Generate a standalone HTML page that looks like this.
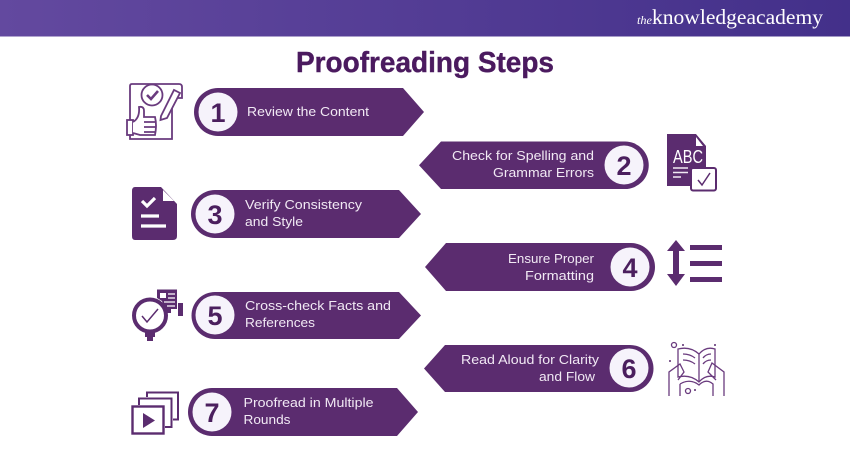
<!DOCTYPE html>
<html lang="en">
<head>
<meta charset="utf-8">
<title>Proofreading Steps</title>
<style>
html,body{margin:0;padding:0;background:#fff}
svg{display:block}
.t{font-family:"Liberation Sans",sans-serif;font-size:13px;fill:#f1e9f4}
.n{font-family:"Liberation Sans",sans-serif;font-size:27px;font-weight:bold;fill:#4b1f5e;text-anchor:middle}
.o{fill:none;stroke:#6a3b7e;stroke-width:1.8}
.d{fill:#5b2c6f}
</style>
</head>
<body>
<svg width="850" height="450" viewBox="0 0 850 450" xmlns="http://www.w3.org/2000/svg">
<defs>
<linearGradient id="g" x1="0" y1="0" x2="1" y2="0">
<stop offset="0" stop-color="#63499f"/>
<stop offset="1" stop-color="#43308a"/>
</linearGradient>
</defs>
<rect width="850" height="450" fill="#fff"/>
<rect width="850" height="36.500" fill="url(#g)"/>
<text x="637" y="24" font-family="Liberation Serif,serif" font-style="italic" font-size="12" fill="#fff" textLength="15" lengthAdjust="spacingAndGlyphs">the</text>
<text x="652" y="24" font-family="Liberation Serif,serif" font-size="21" fill="#fff" textLength="171" lengthAdjust="spacingAndGlyphs">knowledgeacademy</text>
<text x="296" y="72" font-family="Liberation Sans,sans-serif" font-size="29" font-weight="bold" fill="#4b1a5f" stroke="#4b1a5f" stroke-width=".4" textLength="258" lengthAdjust="spacingAndGlyphs">Proofreading Steps</text>

<!-- banners -->
<g fill="#5b2c6f">
<path d="M218 88H403L424 112L403 136H218A24 24 0 0 1 218 88Z"/>
<path d="M215 190H399L421 214L399 238H215A24 24 0 0 1 215 190Z"/>
<path d="M215 292H399L421 315.500L399 339H215A23.500 23.500 0 0 1 215 292Z"/>
<path d="M212 388H397L418 412L397 436H212A24 24 0 0 1 212 388Z"/>
<path d="M625 141.500H441L419 165.250L441 189H625A23.750 23.750 0 0 0 625 141.500Z"/>
<path d="M631 243H446L425 267L446 291H631A24 24 0 0 0 631 243Z"/>
<path d="M630 345H445L424 368.500L445 392H630A23.500 23.500 0 0 0 630 345Z"/>
</g>
<g fill="#f6f3fb">
<circle cx="218" cy="112" r="19.500"/>
<circle cx="215" cy="214" r="19.500"/>
<circle cx="215" cy="315" r="19.500"/>
<circle cx="212" cy="412" r="19.500"/>
<circle cx="624" cy="165" r="19.500"/>
<circle cx="630" cy="267" r="19.500"/>
<circle cx="629" cy="368" r="19.500"/>
</g>
<text class="n" x="218" y="122">1</text>
<text class="n" x="215" y="224">3</text>
<text class="n" x="215" y="325">5</text>
<text class="n" x="212" y="422">7</text>
<text class="n" x="624" y="175">2</text>
<text class="n" x="630" y="277">4</text>
<text class="n" x="629" y="378">6</text>

<!-- labels -->
<text class="t" x="247" y="116" textLength="122" lengthAdjust="spacingAndGlyphs">Review the Content</text>
<text class="t" x="245" y="209" textLength="117" lengthAdjust="spacingAndGlyphs">Verify Consistency</text>
<text class="t" x="245" y="226" textLength="58" lengthAdjust="spacingAndGlyphs">and Style</text>
<text class="t" x="452" y="160" textLength="142" lengthAdjust="spacingAndGlyphs">Check for Spelling and</text>
<text class="t" x="493" y="177" textLength="101" lengthAdjust="spacingAndGlyphs">Grammar Errors</text>
<text class="t" x="508" y="263" textLength="86" lengthAdjust="spacingAndGlyphs">Ensure Proper</text>
<text class="t" x="525" y="280" textLength="69" lengthAdjust="spacingAndGlyphs">Formatting</text>
<text class="t" x="245" y="310" textLength="146" lengthAdjust="spacingAndGlyphs">Cross-check Facts and</text>
<text class="t" x="245" y="327" textLength="70" lengthAdjust="spacingAndGlyphs">References</text>
<text class="t" x="461" y="364" textLength="138" lengthAdjust="spacingAndGlyphs">Read Aloud for Clarity</text>
<text class="t" x="539" y="381" textLength="56" lengthAdjust="spacingAndGlyphs">and Flow</text>
<text class="t" x="243.500" y="407" textLength="130" lengthAdjust="spacingAndGlyphs">Proofread in Multiple</text>
<text class="t" x="243.500" y="424" textLength="47" lengthAdjust="spacingAndGlyphs">Rounds</text>

<!-- icon 1: thumbs up on paper with pencil -->
<g class="o">
<path d="M130 120V86Q130 84 132 84H179Q182 84 182 87V98H176"/>
<path d="M172 107V139H130V135"/>
<circle cx="152" cy="95" r="10.500"/>
<path d="M147 95L151 99L158 91" stroke-width="2.600"/>
<path d="M161 116L174 90L180 93L167 118L160.500 120Z" fill="#fff"/>
<rect x="127" y="120" width="6" height="15"/>
<path d="M133 122Q140 118 139 107Q144 106 144 111V117H155Q157 125 155 135H140L133 133" fill="#fff"/>
<path d="M144 122H156M144 127H156M144 132H155"/>
</g>

<!-- icon 2: ABC document -->
<path d="M667 134H696L706 146V168H691V186H667Z" class="d"/>
<path d="M696 137V146H703Z" fill="#fff"/>
<text x="673" y="163" font-family="Liberation Sans,sans-serif" font-size="18" fill="#fff" textLength="30" lengthAdjust="spacingAndGlyphs">ABC</text>
<path d="M673 168H688M673 172.500H688M673 177H681" stroke="#f1e9f4" stroke-width="1.500" fill="none"/>
<rect x="691" y="168" width="25" height="22.500" rx="2" fill="#fff" stroke="#5b2c6f" stroke-width="2"/>
<path d="M698 180L702 185L710 173" fill="none" stroke="#5b2c6f" stroke-width="1.500"/>

<!-- icon 3: checklist document -->
<path d="M135 187H161L177 204V236Q177 240 173 240H135Q132 240 132 236V191Q132 187 135 187Z" class="d"/>
<path d="M163 190V201H174Z" fill="#fff"/>
<path d="M142 201L147 206L155 198" fill="none" stroke="#fff" stroke-width="3.200"/>
<path d="M141 216H159M141 226H166" stroke="#fff" stroke-width="3.200" fill="none"/>

<!-- icon 4: line spacing -->
<g class="d">
<path d="M676 240L667 251H673V274H667L676 286L685 274H679V251H685Z"/>
<rect x="690" y="245" width="32" height="5"/>
<rect x="690" y="261" width="32" height="5"/>
<rect x="690" y="277" width="32" height="5"/>
</g>

<!-- icon 5: gauge check -->
<path d="M157 289.500H177V309H171V313H166L162 301L157 298Z" class="d"/>
<rect x="160" y="293" width="6" height="5" fill="#fff"/>
<path d="M168 294H175M168 298H175M164 302H175M167 306H175" stroke="#fff" stroke-width="1.200" fill="none"/>
<rect x="178" y="303" width="5" height="13" class="d"/>
<circle cx="150" cy="315.500" r="16" fill="#fff" stroke="#5b2c6f" stroke-width="4"/>
<path d="M142 316L147 322L158 309" fill="none" stroke="#5b2c6f" stroke-width="1.500"/>
<path d="M145 332H155V337H153V341H147V337H145Z" class="d"/>

<!-- icon 6: open book and hands -->
<g class="o" style="stroke-width:1.300">
<path d="M678 349Q690 346 699 354Q706 346 715 349V377Q706 374 699 382Q690 374 678 377Z"/>
<path d="M699 354V382"/>
<path d="M683 354Q690 354 695 358M683 360Q690 360 695 364M703 358Q706 354 711 354M703 364Q706 360 711 360"/>
<path d="M669 396V372L680 364L684 372L678 380"/>
<path d="M724 396V372L712 363L708 372L716 380"/>
<path d="M680 396V384M713 396V384Q706 378 699 385Q690 378 680 384"/>
<circle cx="674" cy="345" r="2.500"/>
<circle cx="688" cy="391" r="2.500"/>
</g>
<circle cx="683" cy="345" r="1" class="d"/>
<circle cx="715" cy="345" r="1" class="d"/>
<circle cx="670" cy="361" r="1" class="d"/>
<circle cx="695" cy="390" r="1" class="d"/>

<!-- icon 7: stacked video frames -->
<g fill="none" stroke="#5b2c6f" stroke-width="2">
<rect x="132.500" y="406.500" width="31" height="27" stroke-width="2.400"/>
<path d="M139 405V398.500H171.500V427H165"/>
<path d="M147 397V392.500H178V419.500H173"/>
</g>
<path d="M143 413L155 420.500L143 428Z" class="d"/>
</svg>
</body>
</html>
